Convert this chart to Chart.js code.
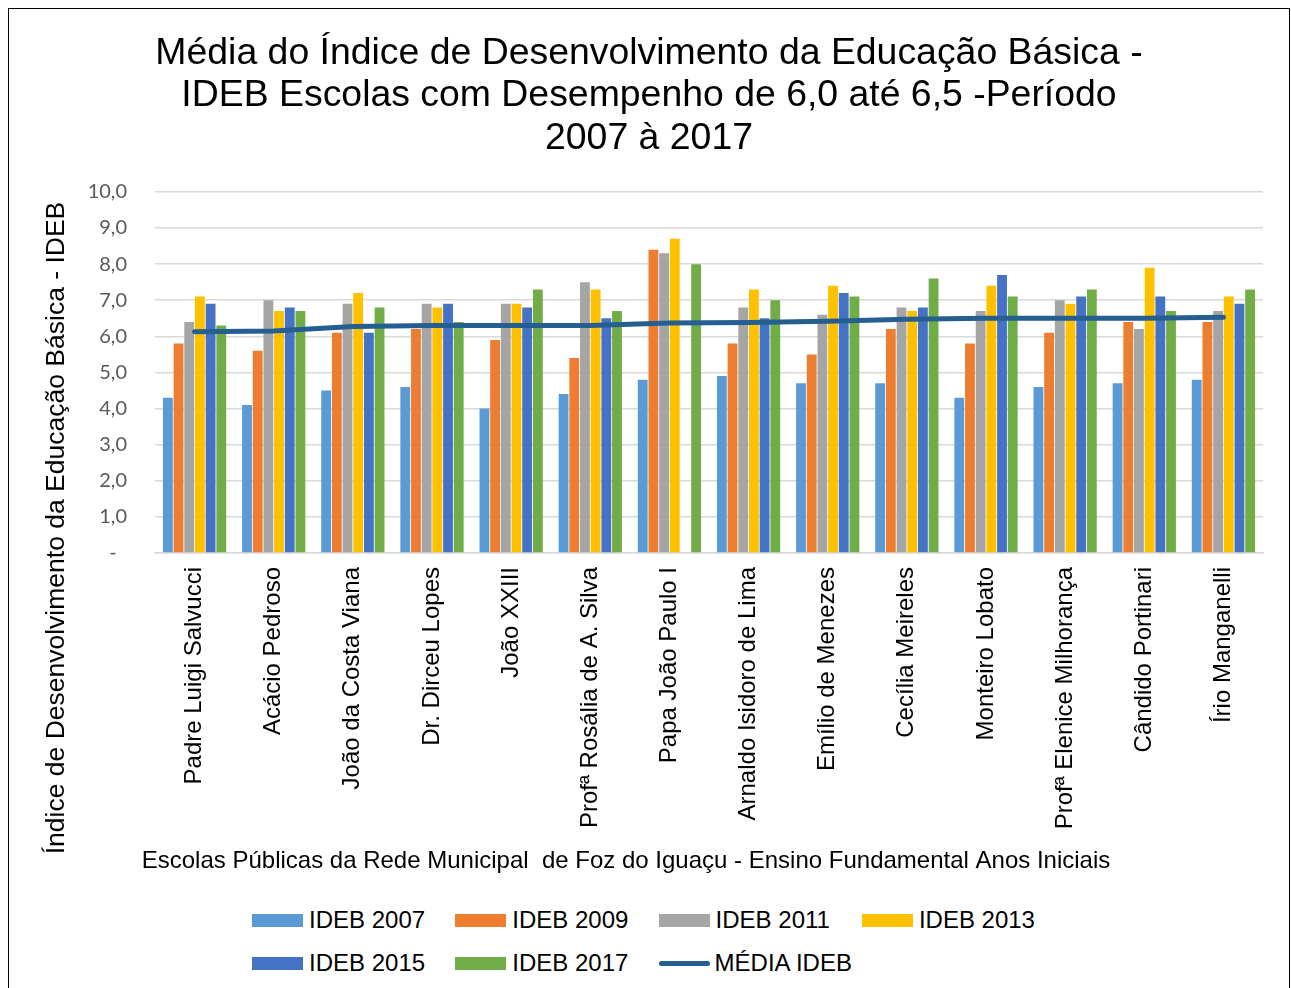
<!DOCTYPE html>
<html>
<head>
<meta charset="utf-8">
<script src="https://cdn.jsdelivr.net/npm/chart.js@4.4.1/dist/chart.umd.min.js"></script>
<style>
    body { margin: 0; background: #fff; }
    #frame { position: absolute; left: 8px; top: 8px; width: 1280px; height: 990px; border: 1px solid #000; background: #fff; }
    #chart { position: absolute; left: 0; top: 0; }
    .leg-item { position: absolute; display: flex; align-items: center; font: 24px "Liberation Sans", Arial, sans-serif; color: #000; white-space: nowrap; }
    .leg-box { width: 51px; height: 13px; margin-right: 6px; }
    .leg-line { width: 51px; height: 5px; border-radius: 3px; margin-right: 5px; }
</style>
</head>
<body>
<div id="frame">
    <canvas id="chart" width="1280" height="880"></canvas>
    <div id="legend"></div>
</div>
<script>
const schools = [
    "Padre Luigi Salvucci", "Acácio Pedroso", "João da Costa Viana", "Dr. Dirceu Lopes",
    "João XXIII", "Profª Rosália de A. Silva", "Papa João Paulo I", "Arnaldo Isidoro de Lima",
    "Emílio de Menezes", "Cecília Meireles", "Monteiro Lobato", "Profª Elenice Milhorança",
    "Cândido Portinari", "Írio Manganelli"
];

const ideb2007 = [4.3, 4.1, 4.5, 4.6, 4.0, 4.4, 4.8, 4.9, 4.7, 4.7, 4.3, 4.6, 4.7, 4.8];
const ideb2009 = [5.8, 5.6, 6.1, 6.2, 5.9, 5.4, 8.4, 5.8, 5.5, 6.2, 5.8, 6.1, 6.4, 6.4];
const ideb2011 = [6.4, 7.0, 6.9, 6.9, 6.9, 7.5, 8.3, 6.8, 6.6, 6.8, 6.7, 7.0, 6.2, 6.7];
const ideb2013 = [7.1, 6.7, 7.2, 6.8, 6.9, 7.3, 8.7, 7.3, 7.4, 6.7, 7.4, 6.9, 7.9, 7.1];
const ideb2015 = [6.9, 6.8, 6.1, 6.9, 6.8, 6.5, null, 6.5, 7.2, 6.8, 7.7, 7.1, 7.1, 6.9];
const ideb2017 = [6.3, 6.7, 6.8, 6.4, 7.3, 6.7, 8.0, 7.0, 7.1, 7.6, 7.1, 7.3, 6.7, 7.3];
const mediaIdeb = [6.13, 6.15, 6.27, 6.30, 6.30, 6.30, 6.37, 6.38, 6.42, 6.47, 6.50, 6.50, 6.50, 6.53];

const seriesNames = ["IDEB 2007", "IDEB 2009", "IDEB 2011", "IDEB 2013", "IDEB 2015", "IDEB 2017"];
const seriesColors = ["#5B9BD5", "#ED7D31", "#A5A5A5", "#FFC000", "#4472C4", "#70AD47"];
const lineName = "MÉDIA IDEB";
const lineColor = "#255E91";

const titleLines = [
    "Média do Índice de Desenvolvimento da Educação Básica -",
    "IDEB Escolas com Desempenho de 6,0 até 6,5 -Período",
    "2007 à 2017"
];
const yTitle = "Índice de Desenvolvimento da Educação Básica - IDEB";
const xTitle = "Escolas Públicas da Rede Municipal  de Foz do Iguaçu - Ensino Fundamental Anos Iniciais";

const barData = [ideb2007, ideb2009, ideb2011, ideb2013, ideb2015, ideb2017];
const fontArial = '"Liberation Sans", Arial, sans-serif';

// axis titles placed like Excel does (centered on the whole area, not the plot)
const axisTitles = {
    id: 'axisTitles',
    afterDraw(chart) {
        const ctx = chart.ctx;
        ctx.save();
        ctx.fillStyle = '#000';
        ctx.textAlign = 'center';
        ctx.textBaseline = 'middle';
        ctx.font = '26.5px ' + fontArial;
        ctx.translate(48, 519);
        ctx.rotate(-Math.PI / 2);
        ctx.fillText(yTitle, 0, 0);
        ctx.restore();

        ctx.save();
        ctx.fillStyle = '#000';
        ctx.textAlign = 'center';
        ctx.textBaseline = 'middle';
        ctx.font = '24px ' + fontArial;
        ctx.fillText(xTitle, 617, 852);
        ctx.restore();
    }
};

const datasets = barData.map((vals, i) => ({
    type: 'bar',
    label: seriesNames[i],
    data: vals,
    backgroundColor: seriesColors[i],
    categoryPercentage: 0.81,
    barPercentage: 0.92,
    order: 1
}));

datasets.push({
    type: 'line',
    label: lineName,
    data: mediaIdeb,
    borderColor: lineColor,
    backgroundColor: lineColor,
    borderWidth: 5,
    borderCapStyle: 'round',
    pointRadius: 0,
    tension: 0,
    order: 0
});

new Chart(document.getElementById('chart'), {
    type: 'bar',
    data: { labels: schools, datasets: datasets },
    plugins: [axisTitles],
    options: {
        responsive: false,
        animation: false,
        layout: { padding: { left: 26, right: 26, top: 0, bottom: 0 } },
        plugins: {
            legend: { display: false },
            tooltip: { enabled: false },
            title: {
                display: true,
                text: titleLines,
                color: '#000',
                font: { family: fontArial, size: 37.4, weight: 'normal', lineHeight: 1.14 },
                padding: { top: 23, bottom: 32 }
            }
        },
        scales: {
            x: {
                grid: { display: false, drawTicks: false },
                border: { color: '#d9d9d9', width: 1.5 },
                ticks: {
                    color: '#000',
                    font: { family: fontArial, size: 24 },
                    minRotation: 90,
                    maxRotation: 90,
                    autoSkip: false,
                    padding: 14
                },
                afterFit(scale) { scale.height = 336; }
            },
            y: {
                min: 0,
                max: 10,
                grid: { color: '#d9d9d9', lineWidth: 1.5, drawTicks: false },
                border: { display: false },
                ticks: {
                    stepSize: 1,
                    color: '#595959',
                    font: { family: 'Lato, "Open Sans", sans-serif', size: 20 },
                    padding: 28,
                    callback: v => v === 0 ? '-  ' : v.toFixed(1).replace('.', ',')
                },
                afterFit(scale) { scale.width = 120; }
            }
        }
    }
});

// legend laid out in columns like the original
const legend = document.getElementById('legend');
const items = seriesNames.map((n, i) => ({ name: n, color: seriesColors[i], line: false }));
items.push({ name: lineName, color: lineColor, line: true });
items.forEach((it, i) => {
    const col = i % 4;
    const row = Math.floor(i / 4);
    const el = document.createElement('div');
    el.className = 'leg-item';
    el.style.left = (243 + col * 203.3) + 'px';
    el.style.top = (897 + row * 43) + 'px';
    el.innerHTML = `<span class="${it.line ? 'leg-line' : 'leg-box'}" style="background:${it.color}"></span>${it.name}`;
    legend.appendChild(el);
});
</script>
</body>
</html>
